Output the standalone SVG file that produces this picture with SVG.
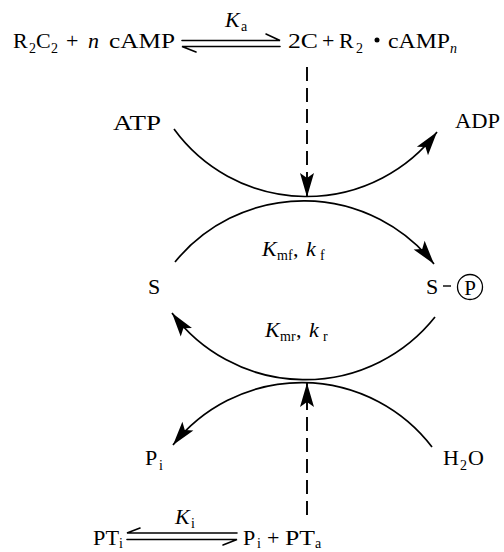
<svg xmlns="http://www.w3.org/2000/svg" width="504" height="552" viewBox="0 0 504 552">
<style>
.t{font-family:"Liberation Serif","Times New Roman",serif;font-size:22px;fill:#000}
.s{font-size:14px}
.i{font-style:italic}
.ln{fill:none;stroke:#000;stroke-width:1.7}
.dash{fill:none;stroke:#000;stroke-width:1.9;stroke-dasharray:14 7}
.hp{fill:none;stroke:#000;stroke-width:1.6;stroke-linecap:round}
</style>
<defs>
<marker id="ah" markerUnits="userSpaceOnUse" markerWidth="30" markerHeight="20" viewBox="-26 -10 30 20" refX="0" refY="0" orient="auto">
<path d="M0,0 L-24,-7 L-19,0 L-24,7 Z" fill="#000"/>
</marker>
</defs>
<rect width="504" height="552" fill="#fff"/>

<g id="connectors">
<path class="ln" d="M174,129 A164,164 0 0 0 437,132" marker-end="url(#ah)"/>
<path class="ln" d="M175,262 A166,166 0 0 1 434,264" marker-end="url(#ah)"/>
<path class="ln" d="M435,317 A166,166 0 0 1 172,313" marker-end="url(#ah)"/>
<path class="ln" d="M432,447 A164,164 0 0 0 173,445" marker-end="url(#ah)"/>
<path class="dash" d="M307,67 V197" marker-end="url(#ah)"/>
<path class="dash" d="M307,515 V383" marker-end="url(#ah)"/>
</g>

<g id="eq-top">
<text class="t" x="13" y="48">R</text>
<text class="t s" x="29" y="53">2</text>
<text class="t" x="36" y="48">C</text>
<text class="t s" x="51" y="53">2</text>
<text class="t" x="66" y="48">+</text>
<text class="t i" x="88" y="48">n</text>
<text class="t" x="109" y="48" textLength="66" lengthAdjust="spacingAndGlyphs">cAMP</text>
<path class="hp" d="M182,40.5 H280 L266,34"/>
<path class="hp" d="M280,46.5 H182 L196,52"/>
<text class="t i" x="225" y="27">K</text>
<text class="t s" x="241" y="31">a</text>
<text class="t" x="288" y="48" textLength="30" lengthAdjust="spacingAndGlyphs">2C</text>
<text class="t" x="322" y="48">+</text>
<text class="t" x="339" y="48">R</text>
<text class="t s" x="356" y="53">2</text>
<circle cx="377" cy="40" r="2.5" fill="#000"/>
<text class="t" x="388" y="48" textLength="62" lengthAdjust="spacingAndGlyphs">cAMP</text>
<text class="t i s" x="450" y="53">n</text>
</g>

<g id="atp"><text class="t" x="113" y="130" textLength="48" lengthAdjust="spacingAndGlyphs">ATP</text></g>
<g id="adp"><text class="t" x="455" y="128" textLength="45" lengthAdjust="spacingAndGlyphs">ADP</text></g>

<g id="kf">
<text class="t i" x="262" y="256">K</text>
<text class="t s" x="277" y="260">mf</text>
<text class="t" x="293" y="256">,</text>
<text class="t i" x="306" y="256">k</text>
<text class="t s" x="320" y="260">f</text>
</g>

<g id="s"><text class="t" x="148" y="294">S</text></g>
<g id="sp">
<text class="t" x="426" y="294">S</text>
<line x1="443" y1="286" x2="451" y2="286" stroke="#000" stroke-width="1.4"/>
<circle cx="470" cy="287" r="12.5" fill="none" stroke="#000" stroke-width="1.3"/>
<text class="t" x="470" y="294.5" text-anchor="middle" style="font-size:21px">P</text>
</g>

<g id="kr">
<text class="t i" x="265" y="337">K</text>
<text class="t s" x="280" y="341">mr</text>
<text class="t" x="296" y="337">,</text>
<text class="t i" x="309" y="337">k</text>
<text class="t s" x="323" y="341">r</text>
</g>

<g id="pi"><text class="t" x="145" y="465">P</text><text class="t s" x="159" y="470">i</text></g>
<g id="h2o"><text class="t" x="443" y="465">H</text><text class="t s" x="460" y="470">2</text><text class="t" x="468" y="465">O</text></g>

<g id="eq-bottom">
<text class="t" x="93" y="545" textLength="26" lengthAdjust="spacingAndGlyphs">PT</text>
<text class="t s" x="119" y="548">i</text>
<path class="hp" d="M237,533 H127 L140,528"/>
<path class="hp" d="M127,539.5 H237 L223,545"/>
<text class="t i" x="175" y="524">K</text>
<text class="t s" x="191" y="528">i</text>
<text class="t" x="243" y="545">P</text>
<text class="t s" x="257" y="548">i</text>
<text class="t" x="267" y="545">+</text>
<text class="t" x="285" y="545" textLength="30" lengthAdjust="spacingAndGlyphs">PT</text>
<text class="t s" x="315" y="548">a</text>
</g>
</svg>
